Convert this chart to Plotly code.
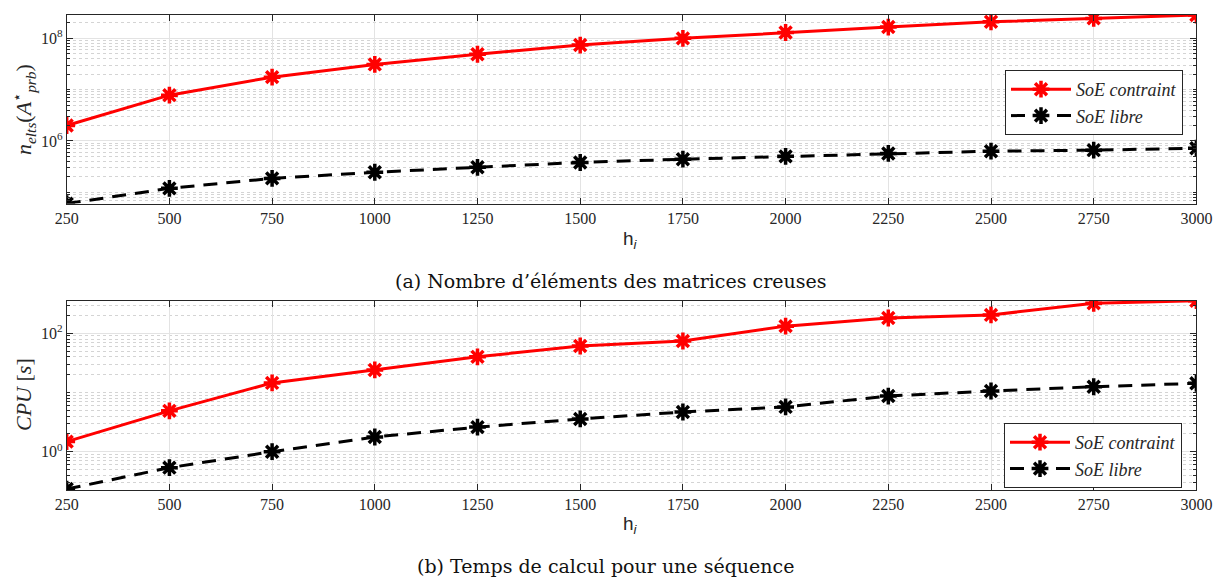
import plotly.graph_objects as go

h = [250, 500, 750, 1000, 1250, 1500, 1750, 2000, 2250, 2500, 2750, 3000]
nelts_contraint = [2.0e6, 7.8e6, 1.75e7, 3.1e7, 4.9e7, 7.4e7, 1.0e8, 1.3e8, 1.66e8, 2.1e8, 2.45e8, 2.85e8]
nelts_libre = [6.0e4, 1.19e5, 1.86e5, 2.45e5, 3.06e5, 3.8e5, 4.4e5, 5.0e5, 5.7e5, 6.3e5, 6.6e5, 7.2e5]
cpu_contraint = [1.48, 4.9, 14.5, 24, 40, 61, 74, 132, 181, 204, 321, 355]
cpu_libre = [0.234, 0.537, 1.0, 1.77, 2.6, 3.57, 4.68, 5.7, 8.7, 10.6, 12.5, 14.3]

top_tickvals = [1e6, 1e8]
top_ticktext = ["10<sup>6</sup>", "10<sup>8</sup>"]
bot_tickvals = [1e0, 1e2]
bot_ticktext = ["10<sup>0</sup>", "10<sup>2</sup>"]
x_ticks = h

names = ["<i>SoE contraint</i>", "<i>SoE libre</i>"]
caption_a = "(a) Nombre d’éléments des matrices creuses"
caption_b = "(b) Temps de calcul pour une séquence"

SERIF = "Liberation Serif"
AX = "#262626"

fig = go.Figure()

def add_pair(xa, ya, yc, yl, legend):
    fig.add_trace(go.Scatter(
        x=h, y=yc, name=names[0], mode="lines+markers",
        line=dict(color="#ff0000", width=3),
        marker=dict(symbol="asterisk-open", size=14, color="#ff0000",
                    line=dict(color="#ff0000", width=3.5)),
        xaxis=xa, yaxis=ya, legend=legend))
    fig.add_trace(go.Scatter(
        x=h, y=yl, name=names[1], mode="lines+markers",
        line=dict(color="#000000", width=3, dash="14px,9px"),
        marker=dict(symbol="asterisk-open", size=14, color="#000000",
                    line=dict(color="#000000", width=3.5)),
        xaxis=xa, yaxis=ya, legend=legend))

add_pair("x", "y", nelts_contraint, nelts_libre, "legend")
add_pair("x2", "y2", cpu_contraint, cpu_libre, "legend2")

xdom = [66.7 / 1220, 1196.4 / 1220]
common_x = dict(
    range=[250, 3000], tickvals=x_ticks, ticks="inside", ticklen=6,
    tickcolor=AX, showline=True, linecolor=AX, linewidth=1, mirror="allticks",
    showgrid=True, gridcolor="#e3e3e3", gridwidth=1, zeroline=False,
    automargin=False,
    tickfont=dict(family=SERIF, size=16, color=AX), domain=xdom)
common_y = dict(
    type="log", ticks="inside", ticklen=6, tickcolor=AX, showline=True,
    linecolor=AX, linewidth=1, mirror="allticks", showgrid=True,
    gridcolor="#e3e3e3", zeroline=False, tickmode="array", automargin=False,
    tickfont=dict(family=SERIF, size=16, color=AX),
    minor=dict(dtick="D1", ticks="inside", ticklen=3, tickcolor=AX,
               showgrid=True, gridcolor="#d4d4d4", griddash="dot", gridwidth=1))

fig.update_layout(
    width=1220, height=578, autosize=False,
    margin=dict(l=0, r=0, t=0, b=0),
    paper_bgcolor="white", plot_bgcolor="white",
    xaxis=dict(common_x, anchor="y"),
    yaxis=dict(common_y, domain=[1 - 203.5 / 578, 1 - 15 / 578],
               range=[4.78, 8.455], tickvals=top_tickvals, ticktext=top_ticktext,
               anchor="x"),
    xaxis2=dict(common_x, anchor="y2"),
    yaxis2=dict(common_y, domain=[1 - 490 / 578, 1 - 300.7 / 578],
                range=[-0.647, 2.55], tickvals=bot_tickvals, ticktext=bot_ticktext,
                anchor="x2"),
    legend=dict(x=1183 / 1220, y=1 - 70 / 578, xanchor="right", yanchor="top",
                bgcolor="white", bordercolor=AX, borderwidth=1,
                font=dict(family=SERIF, size=18, color=AX), itemwidth=60,
                tracegroupgap=0),
    legend2=dict(x=1182 / 1220, y=1 - 423 / 578, xanchor="right", yanchor="top",
                 bgcolor="white", bordercolor=AX, borderwidth=1,
                 font=dict(family=SERIF, size=18, color=AX), itemwidth=60,
                 tracegroupgap=0),
)

annots = [
    dict(text="h<sub><i>i</i></sub>", x=630 / 1220, y=1 - 240 / 578,
         font=dict(family="Liberation Sans", size=19, color=AX)),
    dict(text="h<sub><i>i</i></sub>", x=630 / 1220, y=1 - 525 / 578,
         font=dict(family="Liberation Sans", size=19, color=AX)),
    dict(text=caption_a, x=610 / 1220, y=1 - 281 / 578,
         font=dict(family="DejaVu Serif", size=19, color="#111111")),
    dict(text=caption_b, x=605 / 1220, y=1 - 566 / 578,
         font=dict(family="DejaVu Serif", size=19, color="#111111")),
    dict(text="<i>n</i><sub><i>elts</i></sub>(<i>A</i><sup>⋆</sup><sub><i>prb</i></sub>)",
         x=23 / 1220, y=1 - 110 / 578, textangle=-90,
         font=dict(family=SERIF, size=22, color=AX)),
    dict(text="<i>CPU</i> [<i>s</i>]", x=23 / 1220, y=1 - 395 / 578, textangle=-90,
         font=dict(family=SERIF, size=22, color=AX)),
]
for a in annots:
    fig.add_annotation(xref="paper", yref="paper", showarrow=False,
                       xanchor="center", yanchor="middle", **a)

fig.write_html("out.html", config={"displayModeBar": False},
               post_script="document.body.style.margin='0';document.body.style.overflow='hidden';")
